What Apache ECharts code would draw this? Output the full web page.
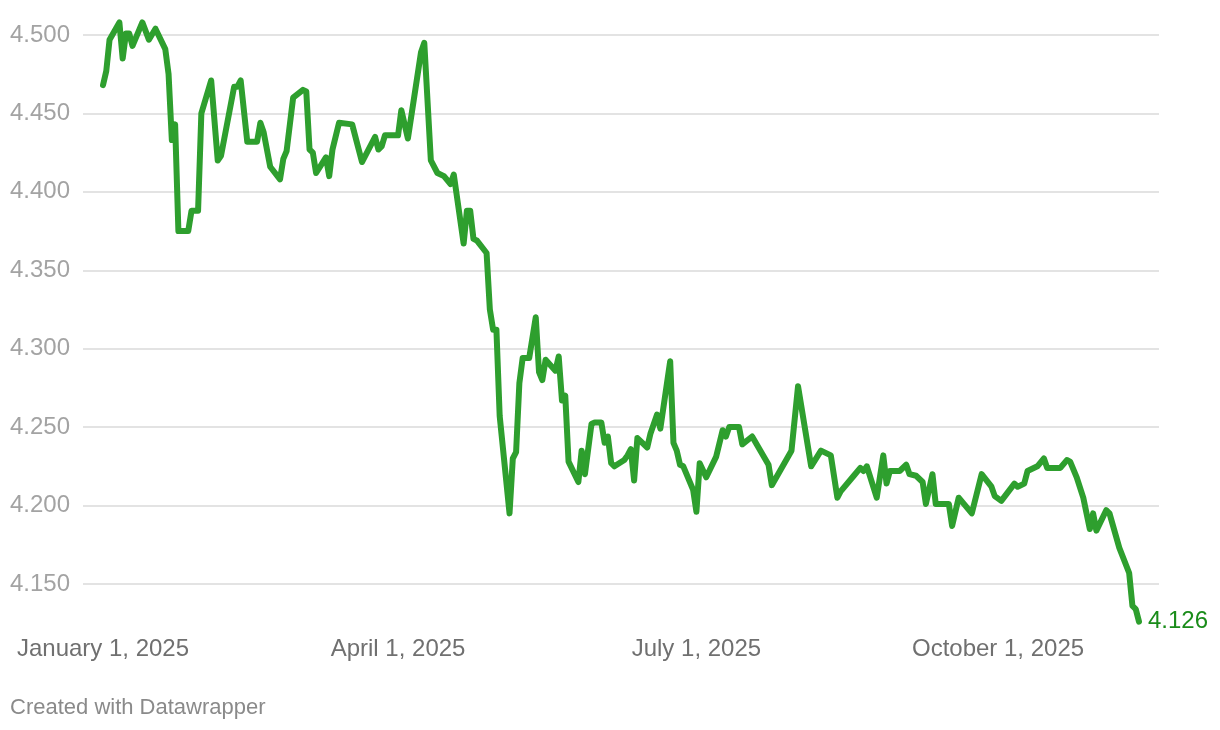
<!DOCTYPE html>
<html>
<head>
<meta charset="utf-8">
<script src="https://cdn.jsdelivr.net/npm/echarts@6/dist/echarts.min.js"></script>
<style>
html,body{margin:0;padding:0;background:#fff;}
#chart{width:1220px;height:730px;}
</style>
</head>
<body>
<div id="chart"></div>
<script>
const dates = [
'2025-01-01','2025-01-02','2025-01-03','2025-01-06','2025-01-07','2025-01-08','2025-01-09','2025-01-10','2025-01-13','2025-01-15',
'2025-01-17','2025-01-20','2025-01-21','2025-01-22','2025-01-23','2025-01-24','2025-01-27','2025-01-28','2025-01-30','2025-01-31',
'2025-02-03','2025-02-05','2025-02-06','2025-02-10','2025-02-11','2025-02-12','2025-02-14','2025-02-17','2025-02-18','2025-02-19',
'2025-02-21','2025-02-24','2025-02-25','2025-02-26','2025-02-28','2025-03-03','2025-03-04','2025-03-05','2025-03-06','2025-03-07',
'2025-03-10','2025-03-11','2025-03-12','2025-03-14','2025-03-18','2025-03-20','2025-03-21','2025-03-25','2025-03-26','2025-03-27',
'2025-03-28','2025-04-01','2025-04-02','2025-04-04','2025-04-08','2025-04-09','2025-04-11','2025-04-13','2025-04-15','2025-04-17',
'2025-04-18','2025-04-21','2025-04-22','2025-04-23','2025-04-24','2025-04-25','2025-04-28','2025-04-29','2025-04-30','2025-05-01',
'2025-05-02','2025-05-05','2025-05-06','2025-05-07','2025-05-08','2025-05-09','2025-05-11','2025-05-13','2025-05-14','2025-05-15',
'2025-05-16','2025-05-19','2025-05-20','2025-05-21','2025-05-22','2025-05-23','2025-05-26','2025-05-27','2025-05-28','2025-05-30',
'2025-05-31','2025-06-02','2025-06-03','2025-06-04','2025-06-05','2025-06-06','2025-06-09','2025-06-10','2025-06-11','2025-06-12',
'2025-06-13','2025-06-16','2025-06-17','2025-06-19','2025-06-20','2025-06-23','2025-06-24','2025-06-25','2025-06-26','2025-06-27',
'2025-06-30','2025-07-01','2025-07-02','2025-07-04','2025-07-07','2025-07-09','2025-07-10','2025-07-11','2025-07-14','2025-07-15',
'2025-07-18','2025-07-23','2025-07-24','2025-07-30','2025-08-01','2025-08-05','2025-08-08','2025-08-11','2025-08-13','2025-08-14',
'2025-08-18','2025-08-20','2025-08-21','2025-08-22','2025-08-25','2025-08-27','2025-08-28','2025-08-29','2025-09-01','2025-09-03',
'2025-09-04','2025-09-06','2025-09-08','2025-09-09','2025-09-11','2025-09-12','2025-09-16','2025-09-17','2025-09-19','2025-09-23',
'2025-09-26','2025-09-29','2025-09-30','2025-10-02','2025-10-06','2025-10-07','2025-10-09','2025-10-10','2025-10-13','2025-10-15',
'2025-10-16','2025-10-20','2025-10-22','2025-10-23','2025-10-25','2025-10-27','2025-10-29','2025-10-30','2025-10-31','2025-11-03',
'2025-11-04','2025-11-07','2025-11-10','2025-11-11','2025-11-12','2025-11-13'
];
const values = [
4.468,4.477,4.497,4.508,4.485,4.501,4.501,4.493,4.508,4.497,
4.504,4.491,4.475,4.433,4.443,4.375,4.375,4.388,4.388,4.450,
4.471,4.420,4.423,4.467,4.467,4.471,4.432,4.432,4.444,4.438,
4.416,4.408,4.421,4.426,4.460,4.465,4.464,4.427,4.425,4.412,
4.422,4.410,4.427,4.444,4.443,4.427,4.419,4.435,4.427,4.429,
4.436,4.436,4.452,4.434,4.489,4.495,4.420,4.412,4.410,4.405,
4.411,4.367,4.388,4.388,4.370,4.369,4.361,4.325,4.312,4.312,
4.257,4.195,4.230,4.234,4.278,4.294,4.294,4.320,4.285,4.280,
4.293,4.286,4.295,4.267,4.270,4.228,4.215,4.235,4.220,4.252,
4.253,4.253,4.240,4.244,4.227,4.225,4.229,4.232,4.236,4.216,
4.243,4.237,4.246,4.258,4.249,4.292,4.240,4.235,4.226,4.225,
4.210,4.196,4.227,4.218,4.231,4.248,4.244,4.250,4.250,4.239,
4.244,4.226,4.213,4.235,4.276,4.225,4.235,4.232,4.205,4.209,
4.219,4.224,4.222,4.225,4.205,4.232,4.214,4.222,4.222,4.226,
4.220,4.219,4.215,4.201,4.220,4.201,4.201,4.187,4.205,4.195,
4.220,4.212,4.206,4.203,4.214,4.212,4.214,4.222,4.225,4.230,
4.224,4.224,4.229,4.228,4.218,4.205,4.185,4.195,4.184,4.197,
4.195,4.173,4.157,4.136,4.134,4.126
];
const xTickDates = ['2025-01-01','2025-04-01','2025-07-01','2025-10-01'];
const monthNames = ['January','February','March','April','May','June','July','August','September','October','November','December'];

function toTime(s){const p=s.split('-').map(Number);return Date.UTC(p[0],p[1]-1,p[2]);}
const DAY = 86400000;
const t0 = toTime('2025-01-01');

const chart = echarts.init(document.getElementById('chart'), null, {renderer:'canvas'});
const FONT = '"Liberation Sans", Arial, Helvetica, sans-serif';
chart.setOption({
  animation:false,
  backgroundColor:'#ffffff',
  grid:{left:83, right:61, top:3.6, height:658.8, containLabel:false},
  xAxis:{
    type:'value',
    min: t0 - 6.1*DAY,
    max: t0 + 322.1*DAY,
    axisLine:{show:false},
    axisTick:{show:false},
    splitLine:{show:false},
    axisLabel:{
      customValues: xTickDates.map(toTime),
      margin:-25,
      color:'#707070',
      fontSize:24,
      fontFamily:FONT,
      formatter:function(v){const d=new Date(v);return monthNames[d.getUTCMonth()]+' '+d.getUTCDate()+', '+d.getUTCFullYear();}
    }
  },
  yAxis:{
    type:'value',
    min:4.1,
    max:4.52,
    interval:0.05,
    axisLine:{show:false},
    axisTick:{show:false},
    splitLine:{show:true, showMinLine:false, showMaxLine:false, lineStyle:{color:'#e3e3e3', width:2}},
    axisLabel:{
      showMinLabel:false,
      showMaxLabel:false,
      align:'left',
      margin:73,
      color:'#a3a3a3',
      fontSize:24,
      fontFamily:FONT,
      formatter:function(v){return v.toFixed(3);}
    }
  },
  series:[{
    type:'line',
    data: dates.map((d,i)=>[toTime(d), values[i]]),
    symbol:'none',
    lineStyle:{color:'#2e9f2e', width:6, cap:'round', join:'round'},
    endLabel:{
      show:true,
      distance:9,
      color:'#1a8c1a',
      fontSize:24,
      fontFamily:FONT,
      formatter:function(p){return p.value[1].toFixed(3);}
    }
  }],
  graphic:[{
    type:'text',
    left:10,
    top:697,
    style:{text:'Created with Datawrapper', fill:'#8a8a8a', fontSize:22, fontFamily:FONT}
  }]
});
</script>
</body>
</html>
